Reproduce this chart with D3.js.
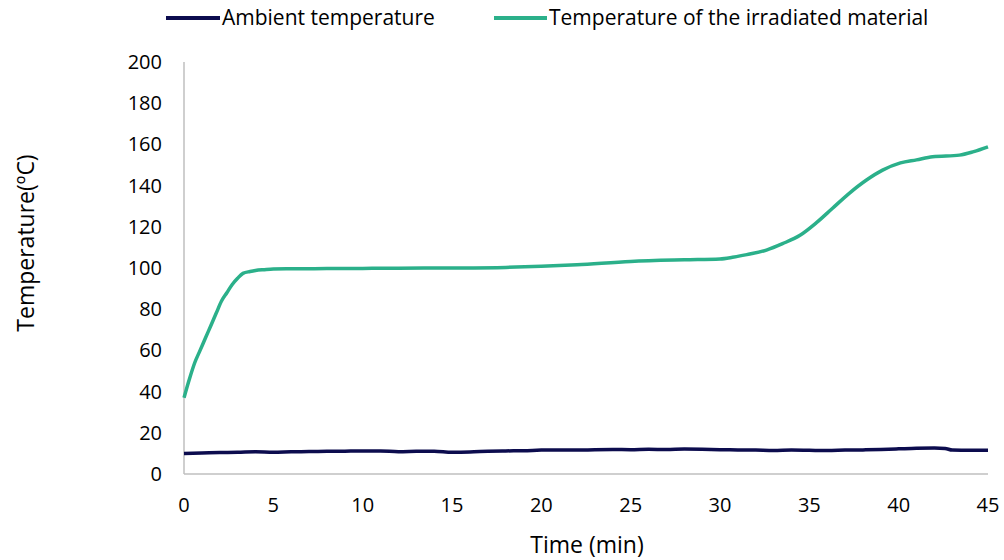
<!DOCTYPE html>
<html><head><meta charset="utf-8">
<script src="https://cdn.jsdelivr.net/npm/d3@7"></script>
<style>body{margin:0;background:#fff;} text{font-family:"Open Sans",sans-serif;fill:#000;}</style>
</head><body>
<svg id="c" width="1004" height="560"></svg>
<script>
const seriesNames = ["Ambient temperature", "Temperature of the irradiated material"];
const seriesColors = ["#0c0c4e", "#2bb08a"];
const xTicks = [0,5,10,15,20,25,30,35,40,45];
const yTicks = [0,20,40,60,80,100,120,140,160,180,200];
const ambientTime = [0,1,2,3,4,5,6,7,8,9,10,11,12,13,14,15,16,17,18,19,20,21,22,23,24,25,26,27,28,29,30,31,32,33,34,35,36,37,38,39,40,41,42,42.6,43,44,45];
const ambientTemp = [10,10.2,10.4,10.5,10.8,10.6,10.8,10.9,11,11.1,11.2,11.2,10.8,11,11.1,10.6,10.7,11,11.2,11.3,11.6,11.7,11.6,11.8,11.9,11.8,12,11.9,12.1,12,11.8,11.7,11.6,11.4,11.6,11.5,11.4,11.6,11.7,11.9,12.2,12.5,12.6,12.4,11.6,11.5,11.5];
const materialTime = [0,0.3,0.6,0.9,1.2,1.5,1.8,2.1,2.4,2.7,3,3.3,3.7,4,4.5,5,6,8,10,12,15,18,20,22,25,28,30,30.7,31.5,32.6,33.5,34.5,35.4,36.3,37.2,38.2,39.1,40.1,41,41.9,43.4,44.2,45];
const materialTemp = [37,46,54,60,66,72,78,84,88,92,95,97.4,98.3,98.8,99.2,99.5,99.6,99.7,99.8,99.9,100,100.3,100.8,101.6,103.2,104,104.4,105.2,106.5,108.7,111.8,116,122,129,136,142.7,147.5,151,152.5,154,154.8,156.5,158.8];

const svg = d3.select("#c");
const x = d3.scaleLinear().domain([0,45]).range([184,988]);
const y = d3.scaleLinear().domain([0,200]).range([474,62]);

svg.append("line").attr("x1",x(0)).attr("x2",x(45)).attr("y1",y(0)).attr("y2",y(0)).attr("stroke","#bfbfbf").attr("stroke-width",1.5);
svg.append("line").attr("x1",x(0)).attr("x2",x(0)).attr("y1",y(0)).attr("y2",y(200)).attr("stroke","#bfbfbf").attr("stroke-width",1.5);

svg.selectAll(".yt").data(yTicks).enter().append("text")
  .attr("x",162).attr("y",d=>y(d)).attr("dy","0.35em").attr("text-anchor","end")
  .attr("font-size",20).text(d=>d);
svg.selectAll(".xt").data(xTicks).enter().append("text")
  .attr("x",d=>x(d)).attr("y",505).attr("dy","0.35em").attr("text-anchor","middle")
  .attr("font-size",20).text(d=>d);

svg.append("text").attr("transform","translate(26,243) rotate(-90)").attr("text-anchor","middle")
  .attr("dy","0.35em").attr("font-size",23).text("Temperature(ºC)");
svg.append("text").attr("x",587).attr("y",545).attr("dy","0.35em").attr("text-anchor","middle")
  .attr("font-size",23).text("Time (min)");

const line = d3.line().x(d=>x(d[0])).y(d=>y(d[1])).curve(d3.curveMonotoneX);
const amb = ambientTime.map((t,i)=>[t,ambientTemp[i]]);
const mat = materialTime.map((t,i)=>[t,materialTemp[i]]);
svg.append("path").attr("d",line(amb)).attr("fill","none").attr("stroke",seriesColors[0]).attr("stroke-width",3.5).attr("stroke-linejoin","round");
svg.append("path").attr("d",line(mat)).attr("fill","none").attr("stroke",seriesColors[1]).attr("stroke-width",3.5).attr("stroke-linejoin","round");

const leg = [{x1:166,x2:220,tx:222},{x1:494,x2:547,tx:549}];
leg.forEach((l,i)=>{
  svg.append("line").attr("x1",l.x1).attr("x2",l.x2).attr("y1",18).attr("y2",18).attr("stroke",seriesColors[i]).attr("stroke-width",4);
  svg.append("text").attr("x",l.tx).attr("y",18).attr("dy","0.35em").attr("font-size",21).text(seriesNames[i]);
});
</script>
</body></html>
